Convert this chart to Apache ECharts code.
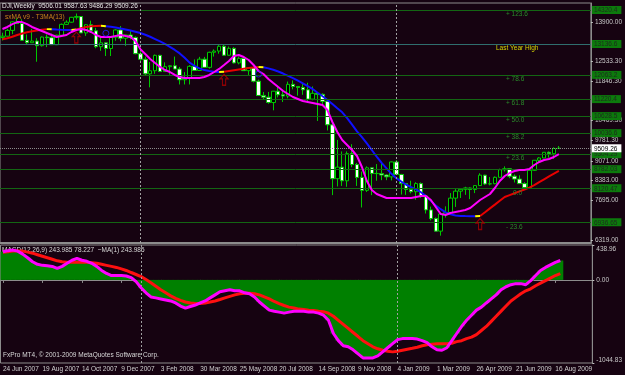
<!DOCTYPE html>
<html>
<head>
<meta charset="utf-8">
<script src="https://cdn.jsdelivr.net/npm/echarts@6.0.0/dist/echarts.min.js"></script>
<style>
html, body { margin: 0; padding: 0; background: #160311; }
#chart { width: 625px; height: 375px; }
</style>
</head>
<body>
<div id="chart"></div>
<script>
// weekly DJI bars, 24 Jun 2007 .. 23 Aug 2009
var opens = [13360,13409,13611,13907,13851,13265,13182,13240,13079,13379,13358,13113,13442,13821,13896,14066,14093,13523,13807,13595,
  13043,13177,12981,13372,13626,13339,13451,13366,12800,12606,12099,12207,12743,12182,12348,12381,12266,11894,11951,12361,
  12216,12610,12325,12849,12892,13058,12746,12986,12480,12638,12210,12308,11843,11347,11288,11101,11496,11371,11327,11734,
  11660,11628,11544,11220,11422,11388,11143,10325,8451,8852,8378,9325,8943,8497,8046,8829,8635,8629,8579,8515,
  9034,8599,8281,8077,8000,8280,7850,7366,7063,6627,7224,7279,7776,8018,8083,8131,8076,8212,8575,8268,
  8277,8500,8764,8799,8539,8438,8280,8146,8743,9093,9172,9370,9321,9506.01];
var highs = [13530,13660,13920,14022,14000,13470,13660,13340,13400,13470,13500,13460,13850,13960,14080,14198,14110,13830,13950,13700,
  13380,13200,13390,13650,13760,13460,13600,13400,12900,12700,12510,12770,12760,12500,12400,12700,12340,12160,12400,12600,
  12690,12690,12870,12950,13100,13130,13050,13030,12700,12650,12330,12340,11900,11470,11470,11500,11690,11540,11830,11870,
  11670,11790,11790,11660,11450,11420,11150,10350,9800,9400,9400,9650,9000,8700,8880,8830,8960,8980,8600,9050,
  9100,8620,8300,8380,8330,8320,7900,7480,7100,7250,7490,7950,8090,8090,8170,8150,8220,8640,8590,8510,
  8530,8800,8880,8800,8600,8570,8330,8780,9100,9200,9380,9400,9540,9587.63];
var lows = [13260,13400,13480,13840,13250,13130,13180,12520,13050,13030,13110,13100,13400,13800,13880,13990,13520,13420,13520,12990,
  12900,12720,12720,13250,13230,13070,13300,12780,12500,12060,11630,12100,12160,12180,12070,12260,11730,11730,11730,12200,
  12200,12320,12280,12700,12800,12720,12740,12460,12430,12200,12060,11800,11340,11200,11060,10830,11280,11120,11250,11560,
  11340,11370,11150,11180,10460,10980,10130,7880,8180,8200,8170,8850,8200,7450,7990,7880,8380,8400,8400,8390,
  8580,7900,7890,7940,7720,7790,7240,7000,6620,6470,7100,7250,7470,7780,7890,7740,7950,8210,8230,8220,
  8260,8500,8700,8470,8320,8280,8090,8140,8720,9000,9160,9180,9140,9486.29];
var closes = [13409,13611,13907,13851,13265,13182,13240,13079,13379,13358,13113,13442,13821,13896,14066,14093,13523,13807,13595,13043,
  13177,12981,13372,13626,13339,13451,13366,12800,12606,12099,12207,12743,12182,12348,12381,12266,11894,11951,12361,12216,
  12610,12325,12849,12892,13058,12746,12986,12480,12638,12210,12308,11843,11347,11288,11101,11496,11371,11327,11734,11660,
  11628,11544,11220,11422,11388,11143,10325,8451,8852,8378,9325,8943,8497,8046,8829,8635,8629,8579,8515,9034,
  8599,8281,8077,8000,8280,7850,7366,7063,6627,7224,7279,7776,8018,8083,8131,8076,8212,8575,8268,8277,
  8500,8764,8799,8539,8438,8280,8146,8743,9093,9172,9370,9321,9505,9509.26];

// sxMA (red rising / blue falling) and T3MA(13)
var sxma = [13300,13340,13390,13450,13500,13545,13580,13610,13635,13655,
  13650,13640,13632,13626,13622,13640,13690,13730,13755,13765,13770,
  13755,13735,13710,13680,13645,13605,13565,13520,13460,13390,13310,13230,13140,13040,12930,12810,12660,12490,12380,12290,12230,12195,12175,12165,
  12170,12200,12225,12250,12275,12300,12320,12335,
  12330,12290,12240,12180,12110,12030,11950,11860,11770,11670,11570,11440,11320,11190,11050,10900,10760,10560,10330,10100,9900,9680,9450,9220,9000,8810,8620,8470,8350,8240,8160,8080,7980,7850,7680,7520,7390,7280,7210,7170,7155,7150,7148,7146,
  7155,7285,7420,7550,7685,7815,7880,7945,8010,8075,8140,8230,8330,8430,8530,8625,8720];
var t3ma = [13660,13730,13830,13900,13900,13830,13730,13660,13590,13520,
  13450,13380,13415,13450,13555,13625,13660,13625,13555,13450,
  13380,13380,13380,13415,13450,13415,13380,13240,12960,12790,
  12615,12476,12340,12233,12163,12060,11990,11955,11955,11955,
  11955,11990,12060,12163,12270,12407,12546,12720,12755,12685,
  12581,12407,12198,12094,11920,11780,11641,11502,11398,11293,
  11224,11154,11120,11085,11050,11015,10841,10424,10076,9798,
  9624,9450,9241,8858,8371,8058,7919,7850,7780,7780,
  7780,7780,7780,7780,7815,7850,7850,7710,7467,7223,
  7188,7258,7293,7327,7362,7432,7571,7710,7815,7919,
  8128,8371,8545,8650,8719,8754,8754,8789,8928,9032,
  9102,9137,9206,9304];
var buyArrows = [15, 45, 97];
var sellCircles = [21, 52];

// MACD(12,26,9)
var macd = [355,368,375,362,324,279,228,196,183,177,
  170,144,170,209,247,272,247,234,209,170,
  119,81,55,55,55,49,29,-22,-98,-162,
  -214,-226,-239,-252,-265,-290,-329,-354,-335,-316,
  -290,-265,-226,-188,-150,-137,-124,-137,-137,-162,
  -175,-214,-278,-329,-380,-393,-405,-418,-405,-393,
  -393,-393,-405,-405,-418,-444,-508,-674,-764,-828,
  -841,-879,-930,-981,-981,-981,-956,-905,-853,-802,
  -751,-738,-738,-738,-744,-764,-789,-841,-879,-885,
  -853,-764,-674,-585,-508,-444,-380,-342,-290,-239,
  -188,-124,-86,-60,-47,-47,-60,-9,55,119,
  157,189,221,244];
var signal = [349,355,362,362,362,349,336,317,298,279,
  260,240,228,221,221,221,221,221,215,209,
  196,183,170,157,138,119,93,68,42,4,
  -35,-79,-124,-162,-201,-233,-258,-278,-290,-297,
  -297,-290,-278,-265,-246,-226,-207,-188,-175,-169,
  -169,-175,-188,-214,-239,-271,-297,-322,-342,-354,
  -367,-373,-380,-386,-393,-399,-418,-457,-508,-559,
  -610,-661,-712,-764,-802,-841,-866,-885,-898,-905,
  -898,-885,-872,-860,-847,-828,-815,-808,-802,-802,
  -802,-796,-776,-764,-738,-719,-687,-636,-585,-521,
  -457,-393,-329,-265,-220,-175,-137,-112,-73,-41,
  -9,23,55,78];

// fibo levels and price labels
var fibPrices = ['14320.4','13136.6','12063.2','11220.4','10628.5','10036.6','9304.29','8782.03','8120.47','6936.65'];
var fibTexts = ['+ 123.6','Last Year High','+ 78.6','+ 61.8','+ 50.0','+ 38.2','+ 23.6','','0.0','- 23.6'];
var lastPrice = '9509.26';
var scaleLabels = ['13900.00','12533.30','11846.30','10469.30','9781.30','9071.00','8383.00','7695.00','6319.00'];
var macdLabels = ['438.96','0.00','-1044.83'];
var dateLabels = ['24 Jun 2007','19 Aug 2007','14 Oct 2007','9 Dec 2007','3 Feb 2008','30 Mar 2008','25 May 2008','20 Jul 2008',
  '14 Sep 2008','9 Nov 2008','4 Jan 2009','1 Mar 2009','26 Apr 2009','21 Jun 2009','16 Aug 2009'];
var yearBreaks = [28, 80];

var slots = 120;
var cats = [];
for (var i = 0; i < slots; i++) cats.push('w' + i);

var candles = [];
for (var i = 0; i < closes.length; i++) candles.push([opens[i], closes[i], lows[i], highs[i]]);

// split sxMA into coloured pieces
var upLine = [], downLine = [], flipLine = [];
for (var i = 0; i < slots; i++) { upLine.push(null); downLine.push(null); flipLine.push(null); }
var trend = [];
for (var i = 1; i < sxma.length; i++) trend[i] = sxma[i] > sxma[i - 1] ? 1 : -1;
trend[0] = trend[1];
for (var i = 1; i < sxma.length; i++) {
  var target = trend[i] !== trend[i - 1] ? flipLine : (trend[i] > 0 ? upLine : downLine);
  target[i - 1] = sxma[i - 1];
  target[i] = sxma[i];
}

var font = 'Liberation Sans';
var fs = 6.5;
var green = '#136613';

var fibLines = fibPrices.map(function (p, k) {
  var isHigh = k === 1;
  return {
    yAxis: Number(p),
    lineStyle: { color: isHigh ? '#2f6e6e' : green, type: 'solid', width: 1 },
    label: {
      show: fibTexts[k] !== '',
      formatter: fibTexts[k],
      position: 'insideStartBottom',
      distance: 1,
      padding: [0, 0, 0, isHigh ? 495 : (fibTexts[k] === '0.0' ? 512 : 505)],
      color: isHigh ? '#d8d800' : '#2a8c2a',
      fontSize: fs,
      fontFamily: font
    }
  };
});
fibLines.push({ yAxis: Number(lastPrice), lineStyle: { color: '#8c8c8c', type: [1, 1], width: 1 }, label: { show: false } });
var breakLines = yearBreaks.map(function (b) {
  return { xAxis: 'w' + b, lineStyle: { color: '#a0a0a0', type: [2, 2], width: 1 }, label: { show: false } };
});

var boxLookup = {};
fibPrices.forEach(function (s) { boxLookup[Number(s)] = s; });

var chart = echarts.init(document.getElementById('chart'));
chart.setOption({
  backgroundColor: '#160311',
  animation: false,
  textStyle: { fontFamily: font },
  grid: [
    { left: 0, top: 3, width: 600, height: 240, show: true, borderColor: '#8c8c8c', borderWidth: 1, backgroundColor: 'transparent' },
    { left: 0, top: 245, width: 600, height: 118, show: true, borderColor: '#8c8c8c', borderWidth: 1, backgroundColor: 'transparent' }
  ],
  xAxis: [
    { type: 'category', gridIndex: 0, data: cats, boundaryGap: true,
      axisLine: { show: true, lineStyle: { color: '#8c8c8c', width: 2 } },
      axisTick: { show: false }, axisLabel: { show: false }, splitLine: { show: false } },
    { type: 'category', gridIndex: 1, data: cats, boundaryGap: true,
      axisLine: { show: true, lineStyle: { color: '#8c8c8c', width: 1 } },
      axisTick: { show: true, interval: 7, alignWithLabel: true, length: 3, lineStyle: { color: '#8c8c8c' } },
      axisLabel: { interval: 7, align: 'left', margin: 3, color: '#d0d0d0', fontSize: fs, fontFamily: font,
        formatter: function (v, idx) { return dateLabels[idx / 8] || ''; } },
      splitLine: { show: false } }
  ],
  yAxis: [
    { type: 'value', gridIndex: 0, position: 'right', min: 6214.3, max: 14563.9,
      axisLine: { show: true, lineStyle: { color: '#8c8c8c' } },
      axisTick: { show: true, length: 2, customValues: scaleLabels.map(Number), lineStyle: { color: '#c0c0c0' } },
      axisLabel: { customValues: scaleLabels.map(Number), margin: 4, color: '#c8c8c8', fontSize: fs, fontFamily: font,
        formatter: function (v) { return v.toFixed(2); } },
      splitLine: { show: false } },
    { type: 'value', gridIndex: 0, position: 'right', min: 6214.3, max: 14563.9, z: 5,
      axisLine: { show: false }, axisTick: { show: false }, splitLine: { show: false },
      axisLabel: {
        customValues: fibPrices.map(Number).concat([Number(lastPrice)]),
        margin: 1, fontSize: fs, fontFamily: font,
        formatter: function (v) {
          if (v === Number(lastPrice)) return '{w|' + lastPrice + '}';
          return '{g|' + (boxLookup[v] || String(v)) + '}';
        },
        rich: {
          g: { backgroundColor: '#0c7a0c', color: '#1e2a1e', padding: [1, 4, 0, 2], fontSize: fs, fontFamily: font },
          w: { backgroundColor: '#ffffff', color: '#000000', padding: [1, 4, 0, 2], fontSize: fs, fontFamily: font }
        }
      } },
    { type: 'value', gridIndex: 1, position: 'right', min: -1044.83, max: 438.96,
      axisLine: { show: true, lineStyle: { color: '#8c8c8c' } },
      axisTick: { show: true, length: 2, customValues: macdLabels.map(Number), lineStyle: { color: '#c0c0c0' } },
      axisLabel: { customValues: macdLabels.map(Number), margin: 4, color: '#c8c8c8', fontSize: fs, fontFamily: font,
        formatter: function (v) {
          if (v > 0) return '{t|' + macdLabels[0] + '}';
          if (v < 0) return '{b|' + macdLabels[2] + '}';
          return macdLabels[1];
        },
        rich: {
          t: { padding: [8, 0, 0, 0], fontSize: fs, color: '#c8c8c8', fontFamily: font },
          b: { padding: [0, 0, 6, 0], fontSize: fs, color: '#c8c8c8', fontFamily: font }
        } },
      splitLine: { show: false } }
  ],
  graphic: [
    { type: 'text', left: 2, top: 2.5, style: { text: 'DJI,Weekly  9506.01 9587.63 9486.29 9509.26', fill: '#e8e8e8', fontSize: fs, fontFamily: font } },
    { type: 'text', left: 5, top: 13.5, style: { text: 'sxMA v9 - T3MA(13)', fill: '#c8841c', fontSize: fs, fontFamily: font } },
    { type: 'text', left: 2, top: 246.5, style: { text: 'MACD(12,26,9) 243.985 78.227  ~MA(1) 243.985', fill: '#d8d8d8', fontSize: fs, fontFamily: font } },
    { type: 'text', left: 3, top: 351.5, style: { text: 'FxPro MT4, \u00a9 2001-2009 MetaQuotes Software Corp.', fill: '#d8d8d8', fontSize: fs, fontFamily: font } }
  ],
  series: [
    { type: 'candlestick', xAxisIndex: 0, yAxisIndex: 0, data: candles, barWidth: 4, z: 2,
      itemStyle: { color: '#000000', color0: '#ffffff', borderColor: '#00c800', borderColor0: '#00c800', borderWidth: 1 },
      markLine: { silent: true, symbol: ['none', 'none'], animation: false, data: fibLines.concat(breakLines) } },
    { type: 'line', xAxisIndex: 0, yAxisIndex: 0, data: upLine, showSymbol: false, symbol: 'none', z: 4,
      lineStyle: { color: '#e80000', width: 2 } },
    { type: 'line', xAxisIndex: 0, yAxisIndex: 0, data: downLine, showSymbol: false, symbol: 'none', z: 4,
      lineStyle: { color: '#1010ff', width: 2 } },
    { type: 'line', xAxisIndex: 0, yAxisIndex: 0, data: flipLine, showSymbol: false, symbol: 'none', z: 5,
      lineStyle: { color: '#ffff00', width: 2 } },
    { type: 'line', xAxisIndex: 0, yAxisIndex: 0, data: t3ma, showSymbol: false, symbol: 'none', z: 6,
      lineStyle: { color: '#ff00ff', width: 2 } },
    { type: 'scatter', xAxisIndex: 0, yAxisIndex: 0, z: 7,
      data: buyArrows.map(function (b) { return ['w' + b, sxma[b]]; }),
      symbol: 'path://M5,0 L10,5 L7,5 L7,12 L3,12 L3,5 L0,5 Z', symbolSize: [8, 11], symbolOffset: [0, 8],
      itemStyle: { color: 'rgba(0,0,0,0)', borderColor: '#b00000', borderWidth: 1.2 } },
    { type: 'scatter', xAxisIndex: 0, yAxisIndex: 0, z: 7,
      data: sellCircles.map(function (b) { return ['w' + b, sxma[b]]; }),
      symbol: 'circle', symbolSize: 6, symbolOffset: [0, 7],
      itemStyle: { color: 'rgba(0,0,0,0)', borderColor: '#2020ff', borderWidth: 1 } },
    { type: 'bar', xAxisIndex: 1, yAxisIndex: 2, data: macd, barWidth: 6, barGap: '-100%', z: 2,
      itemStyle: { color: '#008000', borderWidth: 0 },
      markLine: { silent: true, symbol: ['none', 'none'], animation: false, data: breakLines } },
    { type: 'line', xAxisIndex: 1, yAxisIndex: 2, data: signal, showSymbol: false, symbol: 'none', z: 4,
      lineStyle: { color: '#ff1010', width: 3 } },
    { type: 'line', xAxisIndex: 1, yAxisIndex: 2, data: macd, showSymbol: false, symbol: 'none', z: 5,
      lineStyle: { color: '#ff00ff', width: 3 } }
  ]
});
</script>
</body>
</html>
